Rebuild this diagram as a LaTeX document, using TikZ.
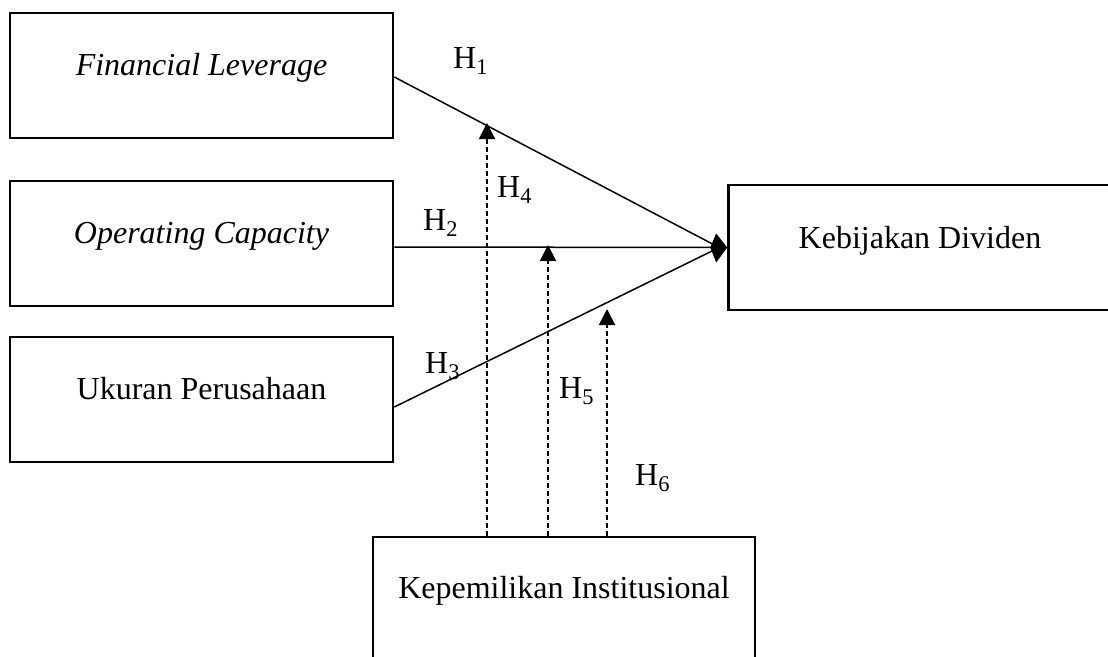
\documentclass[tikz,border=0pt]{standalone}
\usepackage{fontspec}
\setmainfont{Liberation Serif}
\usetikzlibrary{arrows.meta,calc}
\tikzset{
  box/.style={draw, line width=2.6pt, minimum width=383pt, minimum height=125pt, inner sep=0pt},
  lab/.style={font=\fontsize{32}{38}\selectfont, inner sep=0pt, anchor=base},
  hyp/.style={font=\fontsize{32}{38}\selectfont, inner sep=0pt, anchor=base west},
  path/.style={line width=1.5pt},
  modarrow/.style={line width=2pt, dash pattern=on 5pt off 3pt, -{Triangle[width=16pt,length=16pt]}},
}
\begin{document}
\begin{tikzpicture}[x=1pt,y=-1pt]
\useasboundingbox (0,0) rectangle (1108,656);
\clip (0,0) rectangle (1108,656);
% boxes
\node[box] (fl) at (201.5,75.5) {};
\node[box] (oc) at (201.5,243.5) {};
\node[box] (up) at (201.5,399.5) {};
\node[box] (kd) at (920,247.5) {};
\node[box, minimum width=382pt, minimum height=140pt] (ki) at (564,607) {};
% texts
\node[lab] (flt) at (201.5,75) {\textit{Financial Leverage}};
\node[lab] (oct) at (201.5,243) {\textit{Operating Capacity}};
\node[lab] (upt) at (201.5,399) {Ukuran Perusahaan};
\node[lab] (kdt) at (920,248) {Kebijakan Dividen};
\node[lab] (kit) at (564,598) {Kepemilikan Institusional};
% direct paths
\coordinate (tip) at (kd.west);
\draw[path] ($(fl.east)+(0,1.5)$) -- ($(tip)+(-8,0)$);
\draw[path] ($(oc.east)+(0,3.5)$) -- ($(tip)+(-8,0)$);
\draw[path] ($(up.east)+(0,7.5)$) -- ($(tip)+(-8,0)$);
\fill (tip) -- ++(-11,-14) -- ++(-6,14) -- ++(6,15) -- cycle;
% moderating paths
\coordinate (m4) at (487,123);
\coordinate (m5) at (548,245);
\coordinate (m6) at (607,309);
\draw[modarrow] (ki.north -| m4) -- (m4);
\draw[modarrow] (ki.north -| m5) -- (m5);
\draw[modarrow] (ki.north -| m6) -- (m6);
% hypothesis labels
\node[hyp] (h1) at (453,68) {H\textsubscript{1}};
\node[hyp] (h2) at (423,230) {H\textsubscript{2}};
\node[hyp] (h3) at (425,373) {H\textsubscript{3}};
\node[hyp] (h4) at (497,197) {H\textsubscript{4}};
\node[hyp] (h5) at (559,398) {H\textsubscript{5}};
\node[hyp] (h6) at (635,485) {H\textsubscript{6}};
\end{tikzpicture}
\end{document}
